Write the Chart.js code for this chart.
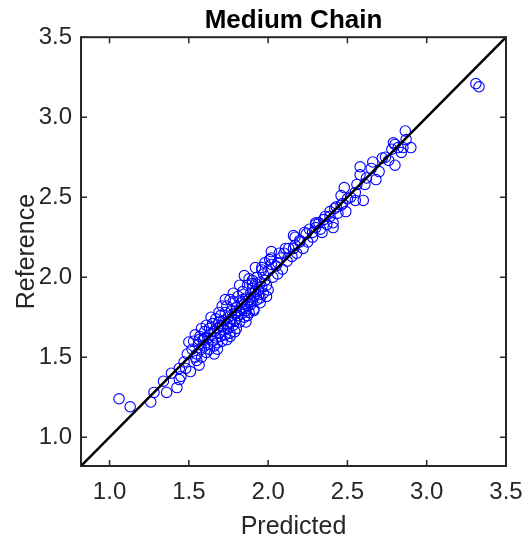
<!DOCTYPE html>
<html>
<head>
<meta charset="utf-8">
<script src="https://cdn.jsdelivr.net/npm/chart.js@4.4.1/dist/chart.umd.min.js"></script>
<style>
  body { margin: 0; background: #fff; }
</style>
</head>
<body>
<canvas id="chart" width="528" height="545"></canvas>
<script>
// values
const predicted = [
  1.06, 1.13, 1.26, 1.28, 1.36, 1.34, 1.425, 1.44, 1.39, 1.44, 1.48, 1.51, 1.565, 1.49, 1.54, 1.50, 1.565, 1.47, 1.45,
  1.52, 1.53, 1.55, 1.56, 1.57, 1.58, 1.58, 1.59, 1.60, 1.60, 1.61, 1.62, 1.62, 1.63, 1.63, 1.64, 1.65, 1.65, 1.66, 1.66,
  1.67, 1.67, 1.68, 1.68, 1.69, 1.69, 1.70, 1.70, 1.71, 1.71, 1.72, 1.72, 1.73, 1.73, 1.74, 1.74, 1.75, 1.75, 1.76, 1.76,
  1.77, 1.77, 1.78, 1.78, 1.79, 1.79, 1.80, 1.80, 1.81, 1.81, 1.82, 1.82, 1.83, 1.83, 1.84, 1.84, 1.85, 1.85, 1.86, 1.86,
  1.87, 1.87, 1.88, 1.88, 1.89, 1.89, 1.90, 1.90, 1.91, 1.91, 1.92, 1.92, 1.93, 1.93, 1.94, 1.94, 1.95, 1.95, 1.96, 1.97,
  1.97, 1.98, 1.99, 2.00, 2.00, 1.64, 1.58, 1.71, 1.76, 1.82, 1.55, 1.66, 1.74, 1.79, 1.86, 1.91, 1.95, 1.61, 1.69, 1.78,
  1.88, 1.54, 1.60, 1.70, 1.80, 1.84, 1.90, 1.96, 1.73, 1.85, 1.92, 2.02, 1.68, 1.76, 1.87, 1.99, 2.03, 2.05, 2.06, 2.08,
  2.09, 2.10, 2.12, 2.13, 2.15, 2.17, 2.18, 2.20, 2.22, 2.24, 2.25, 2.26, 2.28, 2.30, 2.33, 2.35, 2.37, 2.39, 2.44, 2.47,
  2.52, 2.55, 2.56, 2.62, 2.65, 2.70, 2.76, 2.78,
  2.16, 2.17, 2.02, 2.07, 2.32, 2.39, 2.42, 2.28, 2.23, 2.11, 1.96, 1.90, 2.02, 1.98, 2.01, 2.34, 2.41, 2.30, 2.20, 2.16, 2.06,
  2.58, 2.66, 2.72, 2.80, 2.80, 2.85, 2.58, 2.68, 2.61, 2.48, 2.46, 2.50, 2.60, 2.55, 2.43, 2.36, 2.41, 2.30, 2.49, 2.46,
  3.31, 3.33, 2.865, 2.87, 2.79, 2.90, 2.82, 2.84, 2.74
];
const reference = [
  1.24, 1.19, 1.22, 1.28, 1.28, 1.35, 1.31, 1.36, 1.40, 1.43, 1.43, 1.41, 1.45, 1.52, 1.50, 1.595, 1.61, 1.47, 1.38,
  1.55, 1.60, 1.52, 1.58, 1.63, 1.55, 1.50, 1.61, 1.57, 1.66, 1.53, 1.62, 1.58, 1.68, 1.55, 1.64, 1.60, 1.71, 1.57, 1.66,
  1.62, 1.74, 1.68, 1.59, 1.72, 1.65, 1.63, 1.76, 1.69, 1.60, 1.73, 1.67, 1.78, 1.64, 1.71, 1.82, 1.68, 1.75, 1.72, 1.65,
  1.79, 1.74, 1.70, 1.85, 1.77, 1.73, 1.81, 1.68, 1.76, 1.88, 1.79, 1.72, 1.84, 1.77, 1.80, 1.91, 1.75, 1.83, 1.87, 1.79,
  1.82, 1.95, 1.78, 1.86, 1.90, 1.83, 1.93, 1.85, 1.88, 1.80, 1.96, 1.91, 1.86, 2.00, 1.92, 1.89, 1.97, 1.84, 1.94, 2.02,
  1.90, 1.98, 1.95, 2.04, 1.92, 1.75, 1.68, 1.82, 1.86, 1.95, 1.48, 1.52, 1.61, 1.66, 1.72, 1.79, 1.87, 1.70, 1.78, 1.90,
  1.99, 1.64, 1.62, 1.70, 1.78, 1.86, 1.96, 2.06, 1.86, 2.01, 2.06, 2.12, 1.55, 1.63, 1.76, 1.88, 2.00, 2.07, 2.02, 2.12,
  2.05, 2.15, 2.10, 2.18, 2.13, 2.20, 2.15, 2.22, 2.18, 2.27, 2.22, 2.30, 2.25, 2.34, 2.30, 2.36, 2.33, 2.41, 2.40, 2.46,
  2.50, 2.48, 2.58, 2.62, 2.68, 2.66, 2.73, 2.80,
  2.26, 2.25, 2.16, 2.15, 2.34, 2.38, 2.43, 2.28, 2.28, 2.18, 2.045, 1.98, 2.08, 2.09, 2.11, 2.28, 2.31, 2.31, 2.23, 2.18, 2.09,
  2.69, 2.72, 2.745, 2.70, 2.83, 2.81, 2.64, 2.61, 2.58, 2.56, 2.51, 2.49, 2.48, 2.53, 2.44, 2.38, 2.34, 2.33, 2.41, 2.45,
  3.21, 3.19, 2.914, 2.86, 2.84, 2.81, 2.81, 2.78, 2.75
];
const refLine = [0.82, 3.5];
const axisMin = 0.82;
const axisMax = 3.5;
const tickValues = [1.0, 1.5, 2.0, 2.5, 3.0, 3.5];

const axisColor = "#262626";
Chart.defaults.font.family = "'Liberation Sans', Arial, sans-serif";
Chart.defaults.color = axisColor;

// MATLAB style box with inward ticks on all four sides
const boxAxes = {
  id: "boxAxes",
  afterDraw(chart) {
    const { ctx, chartArea: a, scales: { x, y } } = chart;
    const len = 6;
    ctx.save();
    ctx.strokeStyle = axisColor;
    ctx.lineWidth = 1.5;
    ctx.beginPath();
    tickValues.forEach((v) => {
      const px = x.getPixelForValue(v);
      ctx.moveTo(px, a.bottom); ctx.lineTo(px, a.bottom - len);
      ctx.moveTo(px, a.top); ctx.lineTo(px, a.top + len);
      const py = y.getPixelForValue(v);
      ctx.moveTo(a.left, py); ctx.lineTo(a.left + len, py);
      ctx.moveTo(a.right, py); ctx.lineTo(a.right - len, py);
    });
    ctx.stroke();
    ctx.lineWidth = 2;
    ctx.strokeRect(a.left, a.top, a.right - a.left, a.bottom - a.top);
    ctx.restore();
  },
};

const tickOpts = {
  font: { size: 24, lineHeight: 1 },
  color: axisColor,
  callback: (v) => Number(v).toFixed(1),
};

new Chart(document.getElementById("chart"), {
  type: "scatter",
  data: {
    datasets: [
      {
        type: "line",
        data: refLine.map((v) => ({ x: v, y: v })),
        borderColor: "#000",
        borderWidth: 2.5,
        pointRadius: 0,
        fill: false,
        order: 0,
      },
      {
        data: predicted.map((p, i) => ({ x: p, y: reference[i] })),
        borderColor: "rgb(0, 0, 255)",
        backgroundColor: "rgba(0, 0, 0, 0)",
        borderWidth: 1.1,
        pointRadius: 5.2,
        order: 1,
      },
    ],
  },
  options: {
    responsive: false,
    animation: false,
    layout: { padding: { right: 22 } },
    plugins: {
      legend: { display: false },
      tooltip: { enabled: false },
      title: {
        display: true,
        fullSize: false,
        text: "Medium Chain",
        color: "#000",
        font: { size: 26, weight: "bold", lineHeight: 1.2 },
        padding: { top: 5, bottom: 1 },
      },
    },
    scales: {
      x: {
        type: "linear",
        min: axisMin,
        max: axisMax,
        afterBuildTicks: (s) => { s.ticks = tickValues.map((v) => ({ value: v })); },
        afterFit: (s) => { s.height = 79; s.paddingLeft = 0; s.paddingRight = 0; },
        grid: { display: false, drawTicks: false },
        border: { display: false },
        ticks: { ...tickOpts, padding: 14, maxRotation: 0, autoSkip: false },
        title: {
          display: true,
          text: "Predicted",
          color: axisColor,
          font: { size: 25, lineHeight: 1 },
          padding: { top: 0, bottom: 5 },
        },
      },
      y: {
        type: "linear",
        min: axisMin,
        max: axisMax,
        afterBuildTicks: (s) => { s.ticks = tickValues.map((v) => ({ value: v })); },
        afterFit: (s) => { s.width = 81; s.paddingTop = 0; s.paddingBottom = 0; },
        grid: { display: false, drawTicks: false },
        border: { display: false },
        ticks: { ...tickOpts, padding: 9, autoSkip: false },
        title: {
          display: true,
          text: "Reference",
          color: axisColor,
          font: { size: 25, lineHeight: 1 },
          padding: { top: 15, bottom: 0 },
        },
      },
    },
  },
  plugins: [boxAxes],
});
</script>
</body>
</html>
